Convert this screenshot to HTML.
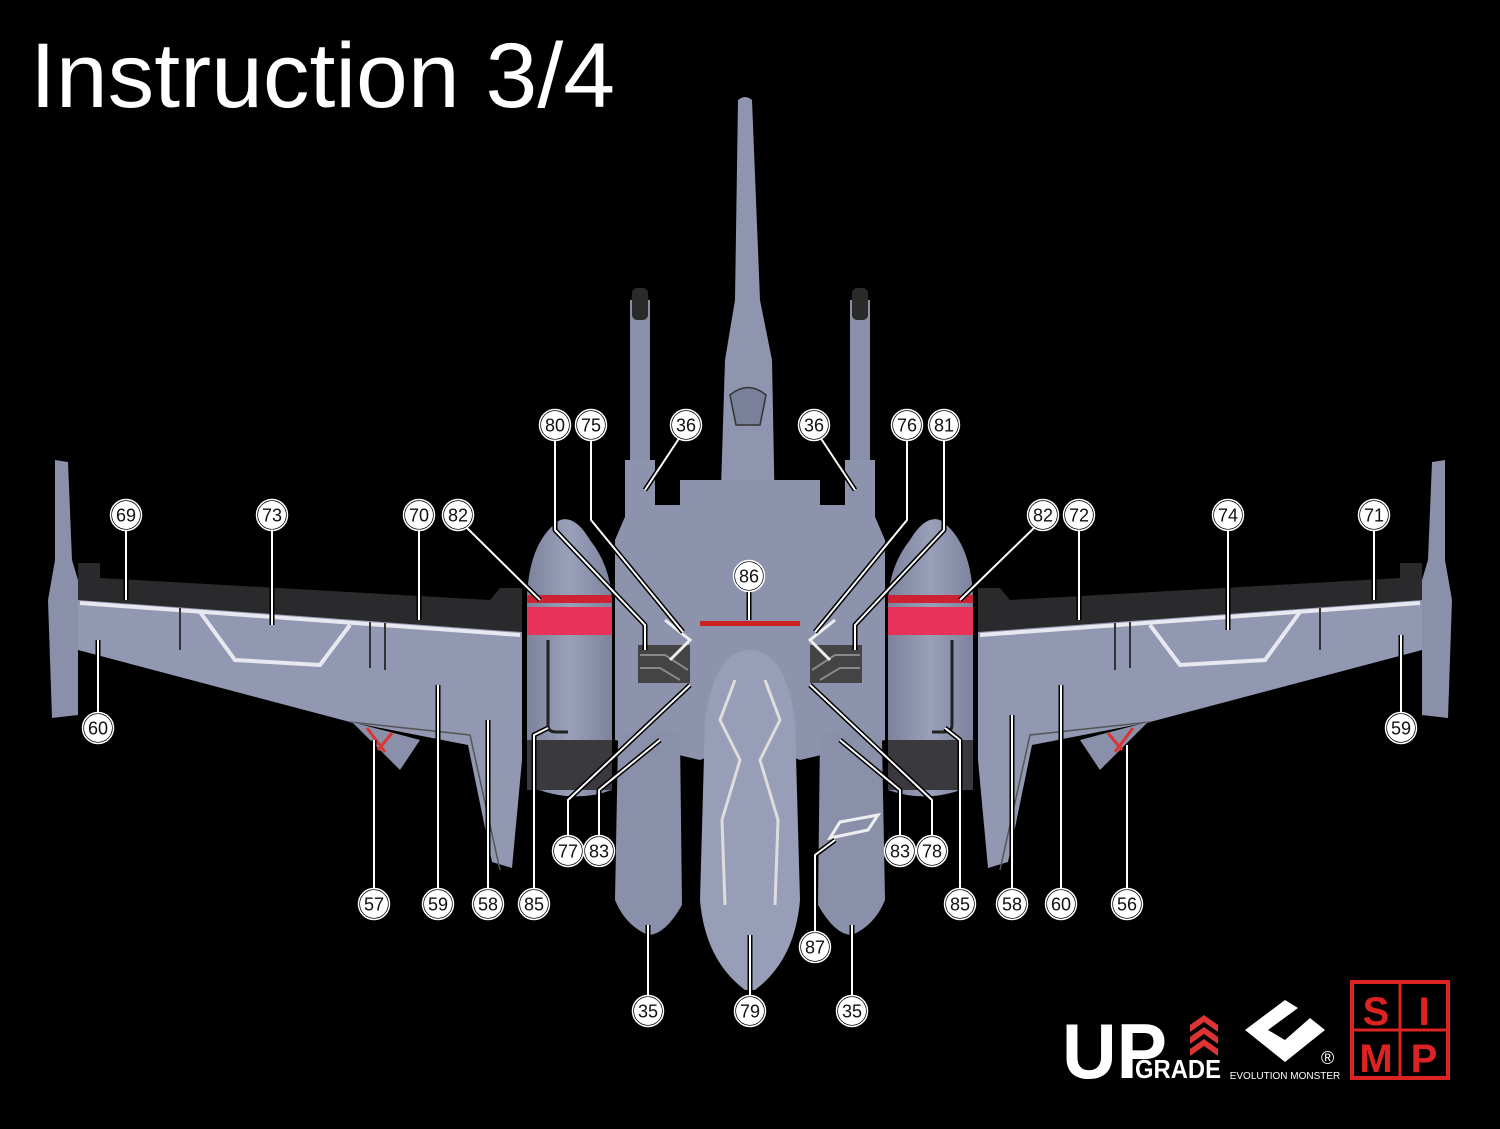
<!DOCTYPE html>
<html><head><meta charset="utf-8"><style>
html,body{margin:0;padding:0;background:#000;}
svg{display:block}
</style></head><body>
<svg width="1500" height="1129" viewBox="0 0 1500 1129" xmlns="http://www.w3.org/2000/svg">
<rect width="1500" height="1129" fill="#000"/>
<text x="30" y="107" fill="#fff" font-family="Liberation Sans, sans-serif" font-size="92" textLength="585" lengthAdjust="spacingAndGlyphs">Instruction 3/4</text>
<defs>
<linearGradient id="g" x1="0" y1="0" x2="1" y2="0"><stop offset="0" stop-color="#7d839d"/><stop offset="0.5" stop-color="#9aa0ba"/><stop offset="1" stop-color="#7d839d"/></linearGradient>
<path id="lines" d="M126,529V600M272,529V625M419,529V620M466,527L540,600M555,439V530L645,625V650M591,439V520L683,632M680,437L645,490M820,437L855,490M907,439V520L815,632M944,439V530L855,625V650M749,590V620M1035,527L960,600M1079,529V620M1228,529V630M1374,529V600M98,714V640M1401,714V635M374,890V740M438,890V685M488,890V720M534,890V735L548,728M568,837V800L690,685M599,837V790L660,740M900,837V790L840,740M932,837V800L810,685M960,890V740L945,728M1012,890V715M1061,890V685M1127,890V745M815,933V855L835,840M648,997V925M750,997V935M852,997V925"/>
<g id="half">
 <path d="M55,460 L68,462 L72,560 L78,580 L78,715 L52,718 L48,600 L55,560 Z" fill="#8a90aa"/>
 <path d="M78,563 L100,563 L100,578 L490,600 L500,588 L522,588 L522,632 L78,600 Z" fill="#2a2a2c"/>
 <path d="M78,600 L522,632 L522,760 L512,868 L492,862 L468,745 L350,722 L78,650 Z" fill="#9298b2"/>
 <path d="M80,603 L520,635" stroke="#e8e8f0" stroke-width="4"/>
 <path d="M180,608 L180,650 M370,622 L370,668 M385,623 L385,670" stroke="#333" stroke-width="2"/>
 <path d="M200,612 L235,660 L320,665 L350,625" stroke="#e8e8f0" stroke-width="4" fill="none"/>
 <path d="M350,722 L470,735 L500,870" stroke="#555" stroke-width="1.5" fill="none"/>
 <path d="M352,722 L420,740 L400,770 Z" fill="#8a90aa"/>
 <path d="M367,728 L385,752 M392,733 L378,750" stroke="#d33" stroke-width="3"/>
 <path d="M527,595 Q530,540 560,520 Q575,515 590,540 Q610,565 612,600 L612,790 Q570,805 527,785 Z" fill="url(#g)"/>
 <rect x="527" y="595" width="85" height="8" fill="#c23"/>
 <rect x="527" y="607" width="85" height="28" fill="#e8325a"/>
 <rect x="527" y="740" width="85" height="50" fill="#3a3a3e"/>
 <path d="M548,640 L548,725 Q548,732 556,732 L568,732" stroke="#222" stroke-width="3" fill="none"/>
 <rect x="630" y="300" width="20" height="200" fill="#8a90aa"/>
 <rect x="632" y="288" width="16" height="32" rx="5" fill="#2a2a2a"/>
 <rect x="625" y="460" width="30" height="60" fill="#8d93ad"/>
 <path d="M615,540 L630,505 L680,505 L680,480 L750,480 L750,740 L700,760 L615,740 Z" fill="#8d93ad"/>
 <rect x="638" y="645" width="52" height="38" fill="#444"/>
 <path d="M640,655 L665,655 L688,670 M640,668 L660,668 L680,680" stroke="#888" stroke-width="2" fill="none"/>
 <path d="M665,620 L690,640 L670,660" stroke="#eee" stroke-width="3" fill="none"/>
 <rect x="700" y="621" width="50" height="5" fill="#c22"/>
 <path d="M618,740 Q640,720 680,735 L682,905 Q665,935 648,935 Q625,925 615,900 Z" fill="#8a90aa"/>
 <path d="M750,650 Q715,650 705,720 L700,900 Q705,960 745,990 L750,990 Z" fill="#989eb8"/>
 <path d="M735,680 L720,720 L740,760 L722,820 L725,905" stroke="#ddd" stroke-width="3" fill="none"/>
</g>
</defs>
<path d="M738,100 Q745,94 752,100 L760,300 L772,360 L775,520 L720,520 L725,360 L735,300 Z" fill="#8f95af"/>
<path d="M730,395 Q748,380 766,395 L760,425 L736,425 Z" fill="#7a809a" stroke="#333" stroke-width="1.5"/>
<use href="#half"/>
<use href="#half" transform="translate(1500,0) scale(-1,1)"/>
<path d="M840,822 L878,815 L868,830 L830,838 Z" fill="none" stroke="#eee" stroke-width="3"/>
<g fill="none" stroke-linejoin="round">
<use href="#lines" stroke="#000" stroke-width="5"/>
<use href="#lines" stroke="#fff" stroke-width="2"/>
</g>
<g font-family="Liberation Sans, sans-serif" font-size="18" text-anchor="middle" fill="#111">
<g id="circ" fill="#fff" stroke="#000" stroke-width="1.5" style="paint-order:stroke">
<circle cx="126" cy="515" r="14"/><circle cx="272" cy="515" r="14"/><circle cx="419" cy="515" r="14"/><circle cx="458" cy="515" r="14"/>
<circle cx="555" cy="425" r="14"/><circle cx="591" cy="425" r="14"/><circle cx="686" cy="425" r="14"/><circle cx="814" cy="425" r="14"/>
<circle cx="907" cy="425" r="14"/><circle cx="944" cy="425" r="14"/><circle cx="749" cy="576" r="14"/>
<circle cx="1043" cy="515" r="14"/><circle cx="1079" cy="515" r="14"/><circle cx="1228" cy="515" r="14"/><circle cx="1374" cy="515" r="14"/>
<circle cx="98" cy="728" r="14"/><circle cx="1401" cy="728" r="14"/>
<circle cx="374" cy="904" r="14"/><circle cx="438" cy="904" r="14"/><circle cx="488" cy="904" r="14"/><circle cx="534" cy="904" r="14"/>
<circle cx="568" cy="851" r="14"/><circle cx="599" cy="851" r="14"/><circle cx="900" cy="851" r="14"/><circle cx="932" cy="851" r="14"/>
<circle cx="960" cy="904" r="14"/><circle cx="1012" cy="904" r="14"/><circle cx="1061" cy="904" r="14"/><circle cx="1127" cy="904" r="14"/>
<circle cx="815" cy="947" r="14"/><circle cx="648" cy="1011" r="14"/><circle cx="750" cy="1011" r="14"/><circle cx="852" cy="1011" r="14"/>
</g>
<g fill="none" stroke="#fff" stroke-width="1.5">
<circle cx="126" cy="515" r="15.5"/><circle cx="272" cy="515" r="15.5"/><circle cx="419" cy="515" r="15.5"/><circle cx="458" cy="515" r="15.5"/>
<circle cx="555" cy="425" r="15.5"/><circle cx="591" cy="425" r="15.5"/><circle cx="686" cy="425" r="15.5"/><circle cx="814" cy="425" r="15.5"/>
<circle cx="907" cy="425" r="15.5"/><circle cx="944" cy="425" r="15.5"/><circle cx="749" cy="576" r="15.5"/>
<circle cx="1043" cy="515" r="15.5"/><circle cx="1079" cy="515" r="15.5"/><circle cx="1228" cy="515" r="15.5"/><circle cx="1374" cy="515" r="15.5"/>
<circle cx="98" cy="728" r="15.5"/><circle cx="1401" cy="728" r="15.5"/>
<circle cx="374" cy="904" r="15.5"/><circle cx="438" cy="904" r="15.5"/><circle cx="488" cy="904" r="15.5"/><circle cx="534" cy="904" r="15.5"/>
<circle cx="568" cy="851" r="15.5"/><circle cx="599" cy="851" r="15.5"/><circle cx="900" cy="851" r="15.5"/><circle cx="932" cy="851" r="15.5"/>
<circle cx="960" cy="904" r="15.5"/><circle cx="1012" cy="904" r="15.5"/><circle cx="1061" cy="904" r="15.5"/><circle cx="1127" cy="904" r="15.5"/>
<circle cx="815" cy="947" r="15.5"/><circle cx="648" cy="1011" r="15.5"/><circle cx="750" cy="1011" r="15.5"/><circle cx="852" cy="1011" r="15.5"/>
</g>
<g transform="translate(0,6.5)">
<text x="126" y="515">69</text><text x="272" y="515">73</text><text x="419" y="515">70</text><text x="458" y="515">82</text>
<text x="555" y="425">80</text><text x="591" y="425">75</text><text x="686" y="425">36</text><text x="814" y="425">36</text>
<text x="907" y="425">76</text><text x="944" y="425">81</text><text x="749" y="576">86</text>
<text x="1043" y="515">82</text><text x="1079" y="515">72</text><text x="1228" y="515">74</text><text x="1374" y="515">71</text>
<text x="98" y="728">60</text><text x="1401" y="728">59</text>
<text x="374" y="904">57</text><text x="438" y="904">59</text><text x="488" y="904">58</text><text x="534" y="904">85</text>
<text x="568" y="851">77</text><text x="599" y="851">83</text><text x="900" y="851">83</text><text x="932" y="851">78</text>
<text x="960" y="904">85</text><text x="1012" y="904">58</text><text x="1061" y="904">60</text><text x="1127" y="904">56</text>
<text x="815" y="947">87</text><text x="648" y="1011">35</text><text x="750" y="1011">79</text><text x="852" y="1011">35</text>
</g>
</g>
<g font-family="Liberation Sans, sans-serif" font-weight="bold" fill="#fff">
<text x="1062" y="1078" font-size="78" textLength="105" lengthAdjust="spacingAndGlyphs">UP</text>
<text x="1135" y="1078" font-size="26" textLength="86" lengthAdjust="spacingAndGlyphs">GRADE</text>
<path d="M1190,1025 L1204,1015 L1218,1025 L1218,1032 L1204,1022 L1190,1032 Z M1190,1037 L1204,1027 L1218,1037 L1218,1044 L1204,1034 L1190,1044 Z M1190,1049 L1204,1039 L1218,1049 L1218,1056 L1204,1046 L1190,1056 Z" fill="#d33"/>
<path d="M1285,1000 L1245,1030 L1285,1062 L1325,1030 L1310,1018 L1285,1040 L1268,1030 L1298,1008 Z" fill="#fff"/>
<text x="1321" y="1064" font-size="18" font-weight="normal">®</text>
<text x="1285" y="1079" font-size="10" font-weight="normal" text-anchor="middle">EVOLUTION MONSTER</text>
<rect x="1352" y="982" width="96" height="96" fill="none" stroke="#d22" stroke-width="4"/>
<path d="M1400,982V1078M1352,1030H1448" stroke="#d22" stroke-width="3"/>
<g fill="#d22" font-size="40" text-anchor="middle">
<text x="1376" y="1025">S</text><text x="1424" y="1025">I</text><text x="1376" y="1072">M</text><text x="1424" y="1072">P</text>
</g>
</g>
</svg>
</body></html>
